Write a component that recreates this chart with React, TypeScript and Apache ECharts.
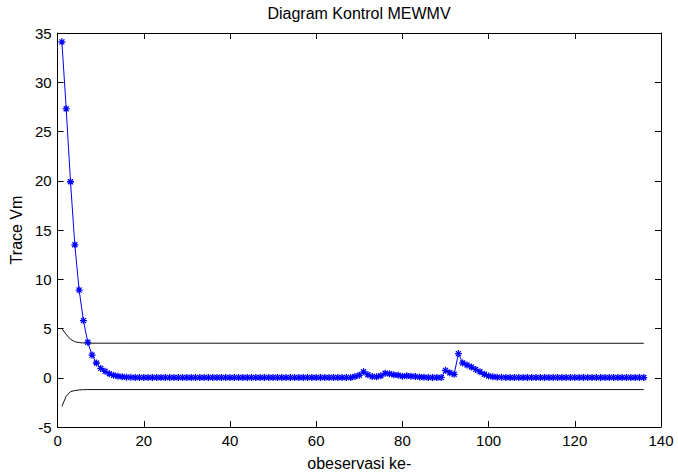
import { useEffect, useRef } from "react";
import * as echarts from "echarts";

// MEWMV trace statistic for each observation (observation k = index + 1)
const traceVm: number[] = [
  34.1, 27.3, 19.9, 13.5, 8.9, 5.8, 3.6, 2.3, 1.5, 0.95,
  0.65, 0.4, 0.25, 0.15, 0.1, 0.06, 0.04, 0.03, 0.02, 0.02,
  0.02, 0.02, 0.02, 0.02, 0.02, 0.02, 0.02, 0.02, 0.02, 0.02,
  0.02, 0.02, 0.02, 0.02, 0.02, 0.02, 0.02, 0.02, 0.02, 0.02,
  0.02, 0.02, 0.02, 0.02, 0.02, 0.02, 0.02, 0.02, 0.02, 0.02,
  0.02, 0.02, 0.02, 0.02, 0.02, 0.02, 0.02, 0.02, 0.02, 0.02,
  0.02, 0.02, 0.02, 0.02, 0.02, 0.02, 0.02, 0.02, 0.12, 0.25,
  0.6, 0.3, 0.12, 0.1, 0.2, 0.45, 0.4, 0.3, 0.25, 0.15,
  0.2, 0.15, 0.12, 0.08, 0.05, 0.03, 0.02, 0.02, 0.03, 0.75,
  0.5, 0.35, 2.45, 1.5, 1.3, 1.1, 0.85, 0.6, 0.35, 0.18,
  0.1, 0.06, 0.04, 0.03, 0.02, 0.02, 0.02, 0.02, 0.02, 0.02,
  0.02, 0.02, 0.02, 0.02, 0.02, 0.02, 0.02, 0.02, 0.02, 0.02,
  0.02, 0.02, 0.02, 0.02, 0.02, 0.02, 0.02, 0.02, 0.02, 0.02,
  0.02, 0.02, 0.02, 0.02, 0.02, 0.02,
];

// Control limits: they settle after the first few observations and stay flat
const uclObs: number[] = [1, 2, 3, 4, 5, 6, 7, 136];
const uclValues: number[] = [5.0, 4.4, 3.9, 3.66, 3.57, 3.53, 3.51, 3.5];
const lclObs: number[] = [1, 2, 3, 4, 5, 6, 7, 136];
const lclValues: number[] = [-2.9, -1.87, -1.41, -1.3, -1.24, -1.21, -1.2, -1.2];

const xMin = 0;
const xMax = 140;
const xStep = 20;
const yMin = -5;
const yMax = 35;
const yStep = 5;

const FONT = "'Liberation Sans', Arial, Helvetica, sans-serif";

// Asterisk marker, stroked
const STAR = "path://M0,-5L0,5M-5,0L5,0M-3.6,-3.6L3.6,3.6M-3.6,3.6L3.6,-3.6";

export default function App() {
  const ref = useRef<HTMLDivElement>(null);

  useEffect(() => {
    if (!ref.current) return;
    const chart = echarts.init(ref.current, undefined, { renderer: "svg" });

    const frameAxis = {
      type: "value" as const,
      axisLine: { show: true, onZero: false, lineStyle: { color: "#000", width: 1 } },
      axisTick: { show: true, inside: true, length: 6, lineStyle: { color: "#000" } },
      splitLine: { show: false },
    };

    chart.setOption({
      animation: false,
      backgroundColor: "#fff",
      grid: { left: 57, right: 17, top: 33, bottom: 46, containLabel: false },
      graphic: [
        {
          type: "text",
          x: 359,
          y: 13,
          style: {
            text: "Diagram Kontrol MEWMV",
            fontSize: 16,
            fontFamily: FONT,
            fill: "#000",
            align: "center",
            verticalAlign: "middle",
          },
        },
      ],
      xAxis: [
        {
          ...frameAxis,
          position: "bottom",
          min: xMin,
          max: xMax,
          interval: xStep,
          name: "obeservasi ke-",
          nameLocation: "middle",
          nameGap: 28,
          nameTextStyle: { color: "#000", fontSize: 16, fontFamily: FONT },
          axisLabel: { color: "#000", fontSize: 15, fontFamily: FONT, margin: 6 },
        },
        {
          ...frameAxis,
          position: "top",
          min: xMin,
          max: xMax,
          interval: xStep,
          axisLabel: { show: false },
        },
      ],
      yAxis: [
        {
          ...frameAxis,
          position: "left",
          min: yMin,
          max: yMax,
          interval: yStep,
          name: "Trace Vm",
          nameLocation: "middle",
          nameGap: 32,
          nameTextStyle: { color: "#000", fontSize: 16, fontFamily: FONT },
          axisLabel: { color: "#000", fontSize: 15, fontFamily: FONT, margin: 6 },
        },
        {
          ...frameAxis,
          position: "right",
          min: yMin,
          max: yMax,
          interval: yStep,
          axisLabel: { show: false },
        },
      ],
      series: [
        {
          name: "UCL",
          type: "line",
          data: uclObs.map((x, i) => [x, uclValues[i]]),
          showSymbol: false,
          lineStyle: { color: "#111", width: 1 },
          z: 2,
        },
        {
          name: "LCL",
          type: "line",
          data: lclObs.map((x, i) => [x, lclValues[i]]),
          showSymbol: false,
          lineStyle: { color: "#111", width: 1 },
          z: 2,
        },
        {
          name: "Trace Vm",
          type: "line",
          data: traceVm.map((v, i) => [i + 1, v]),
          symbol: STAR,
          symbolSize: 7,
          showSymbol: true,
          showAllSymbol: true,
          lineStyle: { color: "#0000ff", width: 1 },
          itemStyle: { color: "#0000ff", borderColor: "#0000ff", borderWidth: 1.3 },
          z: 3,
        },
      ],
    });

    return () => chart.dispose();
  }, []);

  return (
    <div
      ref={ref}
      style={{ position: "absolute", left: 0, top: 0, width: 678, height: 476, background: "#fff" }}
    />
  );
}
